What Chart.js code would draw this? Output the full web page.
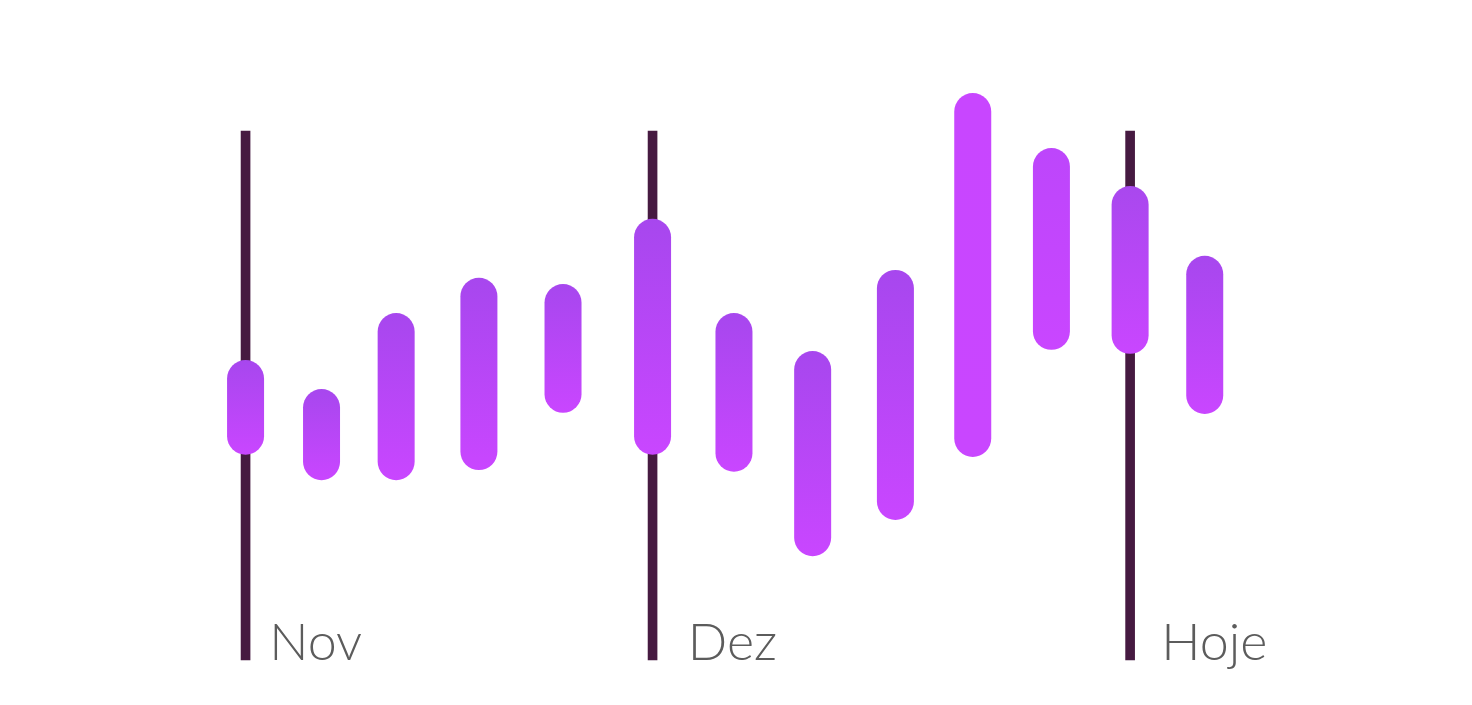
<!DOCTYPE html>
<html lang="pt">
<head>
<meta charset="utf-8">
<title>Histórico</title>
<script src="https://cdn.jsdelivr.net/npm/chart.js@4.4.1/dist/chart.umd.min.js"></script>
<style>
    html, body { margin: 0; padding: 0; background: #fff; }
    #wrap { width: 1472px; height: 705px; position: relative; }
</style>
</head>
<body>
<div id="wrap"><canvas id="chart"></canvas></div>
<script>
// dias contados a partir de 1 de novembro
const dias = [0, 5.6, 11.1, 17.2, 23.4, 30, 36, 41.8, 47.9, 53.6, 59.4, 65.2, 70.7];
const minimos = [36.2, 31.7, 31.7, 33.5, 43.6, 36.2, 33.2, 18.3, 24.7, 35.8, 54.7, 54.0, 43.4];
const maximos = [52.9, 47.8, 61.2, 67.4, 66.3, 77.8, 61.2, 54.5, 68.8, 100, 90.3, 83.6, 71.3];

const marcos = ["Nov", "Dez", "Hoje"];
const marcoDias = [0, 30, 65.2];
const marcoTopo = 93.3;
const marcoRotuloDias = [1.75, 32.6, 67.5];

// cor do topo de cada barra (o fundo e sempre rosa)
const COR_TOPO = ["#a747ee", "#a747ee", "#a747ee", "#a747ee", "#a747ee", "#a747ee", "#a747ee",
    "#a747ee", "#a747ee", "#c846ff", "#bd46fb", "#a948ee", "#a747ee"];
const COR_BASE = "#c946ff";

const barras = dias.map((d, i) => ({ x: d, y: [minimos[i], maximos[i]] }));
const linhas = marcoDias.map(d => ({ x: d, y: [0, marcoTopo] }));

// Chart.js limita o borderRadius a 1/4 da largura; desenha as barras como pilulas
const pilulasPlugin = {
    id: "pilulas",
    beforeDatasetDraw(chart, args) {
        if (args.index !== 0) return;
        const ctx = chart.ctx;
        ctx.save();
        args.meta.data.forEach((el, i) => {
            const p = el.getProps(["x", "y", "base", "width"], true);
            const top = Math.min(p.y, p.base);
            const bottom = Math.max(p.y, p.base);
            const g = ctx.createLinearGradient(0, top, 0, bottom);
            g.addColorStop(0, COR_TOPO[i]);
            g.addColorStop(1, COR_BASE);
            ctx.beginPath();
            ctx.roundRect(p.x - p.width / 2, top, p.width, bottom - top, p.width / 2);
            ctx.fillStyle = g;
            ctx.fill();
        });
        ctx.restore();
        return false;
    }
};

const rotulosPlugin = {
    id: "rotulos",
    afterDatasetsDraw(chart) {
        const ctx = chart.ctx;
        const x = chart.scales.x;
        const y = chart.scales.y;
        ctx.save();
        ctx.font = "300 52px Lato";
        ctx.fillStyle = "#5c5c5c";
        ctx.textAlign = "left";
        ctx.textBaseline = "alphabetic";
        marcos.forEach((txt, i) => {
            ctx.fillText(txt, x.getPixelForValue(marcoRotuloDias[i]), y.getPixelForValue(0));
        });
        ctx.restore();
    }
};

new Chart(document.getElementById("chart"), {
    type: "bar",
    data: {
        datasets: [
            {
                data: barras,
                backgroundColor: "#b546f7",
                barThickness: 37,
                borderSkipped: false,
                grouped: false,
                clip: false,
                order: 0
            },
            {
                data: linhas,
                backgroundColor: "#461a41",
                barThickness: 9,
                borderRadius: 0,
                borderSkipped: false,
                grouped: false,
                clip: false,
                order: 1
            }
        ]
    },
    options: {
        responsive: true,
        maintainAspectRatio: false,
        animation: false,
        layout: { padding: { top: 93, bottom: 45, left: 0, right: 0 } },
        plugins: {
            legend: { display: false },
            tooltip: { enabled: false }
        },
        scales: {
            x: { type: "linear", min: -18.1, max: 90.4, offset: false, display: false },
            y: { min: 0, max: 100, display: false }
        }
    },
    plugins: [pilulasPlugin, rotulosPlugin]
});
</script>
</body>
</html>
